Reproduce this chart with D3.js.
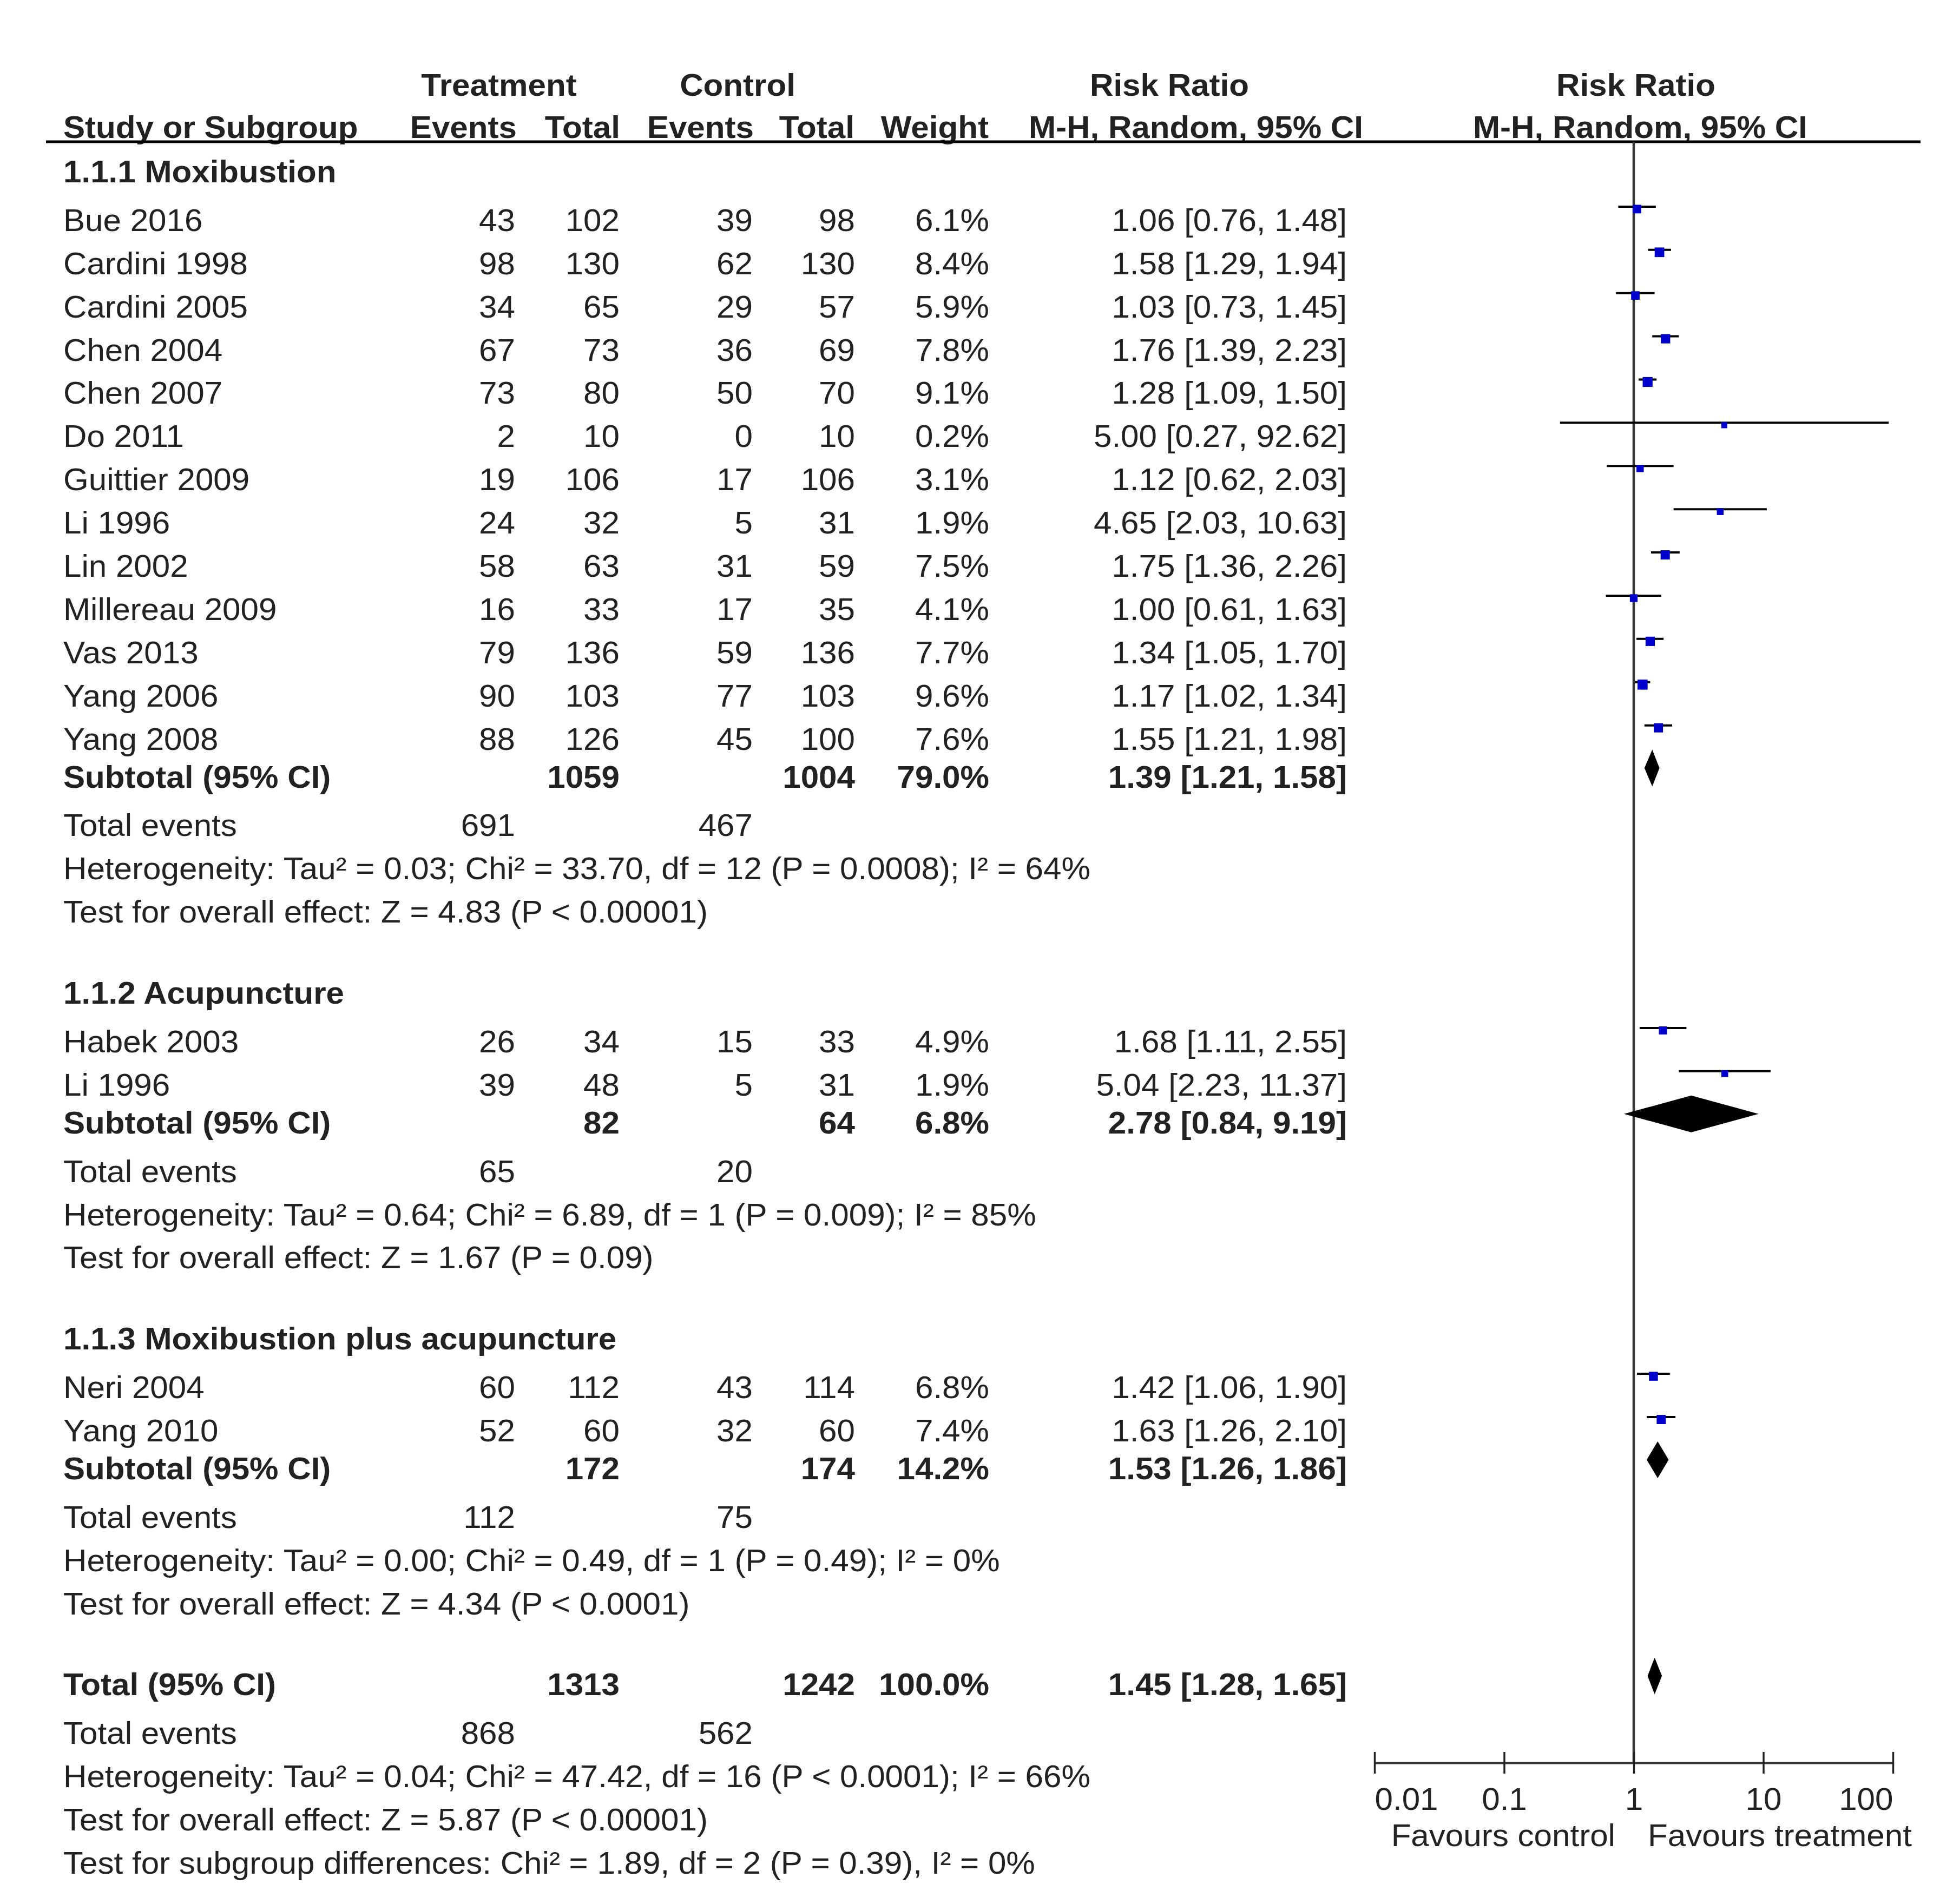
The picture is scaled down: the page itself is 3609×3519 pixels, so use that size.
<!DOCTYPE html>
<html><head><meta charset="utf-8">
<script src="https://cdn.jsdelivr.net/npm/d3@7"></script>
<style>
body{margin:0;background:#fff;}
svg{display:block;}
text{font-family:"Liberation Sans",Arial,sans-serif;fill:#222;}
</style>
</head><body>
<svg id="chart" width="3609" height="3519"></svg>
<script>
// ---------------- DATA ----------------
const groupTitles = ["1.1.1 Moxibustion", "1.1.2 Acupuncture", "1.1.3 Moxibustion plus acupuncture"];
const studyGroup = [0,0,0,0,0,0,0,0,0,0,0,0,0, 1,1, 2,2];
const studyNames = ["Bue 2016","Cardini 1998","Cardini 2005","Chen 2004","Chen 2007","Do 2011","Guittier 2009","Li 1996","Lin 2002","Millereau 2009","Vas 2013","Yang 2006","Yang 2008",
                    "Habek 2003","Li 1996",
                    "Neri 2004","Yang 2010"];
const treatEvents = [43,98,34,67,73,2,19,24,58,16,79,90,88, 26,39, 60,52];
const treatTotal  = [102,130,65,73,80,10,106,32,63,33,136,103,126, 34,48, 112,60];
const ctrlEvents  = [39,62,29,36,50,0,17,5,31,17,59,77,45, 15,5, 43,32];
const ctrlTotal   = [98,130,57,69,70,10,106,31,59,35,136,103,100, 33,31, 114,60];
const weights     = [6.1,8.4,5.9,7.8,9.1,0.2,3.1,1.9,7.5,4.1,7.7,9.6,7.6, 4.9,1.9, 6.8,7.4];
const rrEst  = [1.06,1.58,1.03,1.76,1.28,5.00,1.12,4.65,1.75,1.00,1.34,1.17,1.55, 1.68,5.04, 1.42,1.63];
const rrLow  = [0.76,1.29,0.73,1.39,1.09,0.27,0.62,2.03,1.36,0.61,1.05,1.02,1.21, 1.11,2.23, 1.06,1.26];
const rrHigh = [1.48,1.94,1.45,2.23,1.50,92.62,2.03,10.63,2.26,1.63,1.70,1.34,1.98, 2.55,11.37, 1.90,2.10];

const subTreatTotal  = [1059, 82, 172];
const subCtrlTotal   = [1004, 64, 174];
const subWeight      = [79.0, 6.8, 14.2];
const subRR          = [1.39, 2.78, 1.53];
const subLow         = [1.21, 0.84, 1.26];
const subHigh        = [1.58, 9.19, 1.86];
const subTreatEvents = [691, 65, 112];
const subCtrlEvents  = [467, 20, 75];
const subHet = ["Heterogeneity: Tau² = 0.03; Chi² = 33.70, df = 12 (P = 0.0008); I² = 64%",
                "Heterogeneity: Tau² = 0.64; Chi² = 6.89, df = 1 (P = 0.009); I² = 85%",
                "Heterogeneity: Tau² = 0.00; Chi² = 0.49, df = 1 (P = 0.49); I² = 0%"];
const subTest = ["Test for overall effect: Z = 4.83 (P < 0.00001)",
                 "Test for overall effect: Z = 1.67 (P = 0.09)",
                 "Test for overall effect: Z = 4.34 (P < 0.0001)"];

const totTreatTotal = 1313, totCtrlTotal = 1242, totWeight = 100.0;
const totRR = [1.45, 1.28, 1.65];
const totTreatEvents = 868, totCtrlEvents = 562;
const totHet = "Heterogeneity: Tau² = 0.04; Chi² = 47.42, df = 16 (P < 0.0001); I² = 66%";
const totTest = "Test for overall effect: Z = 5.87 (P < 0.00001)";
const subgroupTest = "Test for subgroup differences: Chi² = 1.89, df = 2 (P = 0.39), I² = 0%";

const tickValues = [0.01, 0.1, 1, 10, 100];
const tickLabels = ["0.01", "0.1", "1", "10", "100"];
const favourLeft = "Favours control", favourRight = "Favours treatment";

// ---------------- LAYOUT ----------------
const FS = 57;
const SX = 1.055; // horizontal glyph stretch to match the reference's wider type
const svg = d3.select("#chart");
const col = {name:117, tEv:952, tTot:1145, cEv:1391, cTot:1580, wt:1828, ci:2489};

const rows = [];
let u = 0;
groupTitles.forEach((g, gi) => {
  if (gi > 0) u += 15;
  rows.push({type:"heading", u, gi});
  const idx = studyGroup.map((s,i)=>s===gi?i:-1).filter(i=>i>=0);
  idx.forEach((si, k) => { u += (k===0?9:8); rows.push({type:"study", u, si}); });
  u += 7; rows.push({type:"subtotal", u, gi});
  u += 9; rows.push({type:"events", u, gi});
  u += 8; rows.push({type:"het", u, gi});
  u += 8; rows.push({type:"test", u, gi});
});
u += 15; rows.push({type:"total", u});
u += 9;  rows.push({type:"totEvents", u});
u += 8;  rows.push({type:"totHet", u});
u += 8;  rows.push({type:"totTest", u});
u += 8;  rows.push({type:"subgroup", u});

const y = d3.scaleLinear().domain([0, u]).range([337, 3463]);
const x = d3.scaleLog().domain([0.01, 100]).range([2540, 3498]);
const sq = d3.scaleLinear().domain([0, 10]).range([11, 19]);

const f2 = v => v.toFixed(2);
const ciStr = (e,l,h) => `${f2(e)} [${f2(l)}, ${f2(h)}]`;

function txt(xp, yp, s, anchor="start", bold=false) {
  return svg.append("text").attr("x", xp / SX).attr("y", yp)
    .attr("transform", `scale(${SX},1)`).attr("text-anchor", anchor)
    .attr("font-size", FS).attr("font-weight", bold ? "bold" : "normal").text(s);
}

// ---------------- HEADER ----------------
txt(922, 177, "Treatment", "middle", true);
txt(1363, 177, "Control", "middle", true);
txt(2161, 177, "Risk Ratio", "middle", true);
txt(3023, 177, "Risk Ratio", "middle", true);
txt(col.name, 255, "Study or Subgroup", "start", true);
txt(955, 255, "Events", "end", true);
txt(1146, 255, "Total", "end", true);
txt(1393, 255, "Events", "end", true);
txt(1579, 255, "Total", "end", true);
txt(1827, 255, "Weight", "end", true);
txt(2210, 255, "M-H, Random, 95% CI", "middle", true);
txt(3031, 255, "M-H, Random, 95% CI", "middle", true);
svg.append("line").attr("x1", 85).attr("x2", 3549).attr("y1", 262).attr("y2", 262)
  .attr("stroke", "#000").attr("stroke-width", 5);

// ---------------- AXIS + NULL LINE ----------------
const axisY = 3258;
svg.append("line").attr("x1", x(1)).attr("x2", x(1)).attr("y1", 262).attr("y2", axisY)
  .attr("stroke", "#333").attr("stroke-width", 4.5);

const axis = d3.axisBottom(x).tickValues(tickValues).tickFormat((d,i)=>tickLabels[i])
  .tickSizeOuter(0).tickSizeInner(20).tickPadding(0);
const ag = svg.append("g").attr("transform", `translate(0,${axisY})`).call(axis);
ag.select(".domain").attr("stroke", "#333").attr("stroke-width", 4);
ag.selectAll(".tick line").attr("y1", -20).attr("y2", 20).attr("stroke", "#222").attr("stroke-width", 3.5);
ag.selectAll(".tick text").attr("font-size", FS).attr("fill", "#222")
  .attr("font-family", '"Liberation Sans",Arial,sans-serif')
  .attr("dy", null).attr("y", 3345 - axisY).attr("transform", `scale(${SX},1)`)
  .attr("text-anchor", (d,i) => i===0 ? "start" : (i===tickValues.length-1 ? "end" : "middle"));
txt(x(1) - 34, 3412, favourLeft, "end");
txt(x(1) + 26, 3412, favourRight, "start");

// ---------------- ROWS ----------------
const plot = svg.append("g");
function diamond(yc, e, l, h) {
  const hh = 34;
  plot.append("path")
    .attr("d", `M${x(l)},${yc} L${x(e)},${yc-hh} L${x(h)},${yc} L${x(e)},${yc+hh} Z`)
    .attr("fill", "#000");
}

rows.forEach(r => {
  const yb = y(r.u);
  switch (r.type) {
    case "heading":
      txt(col.name, yb, groupTitles[r.gi], "start", true); break;
    case "study": {
      const i = r.si;
      txt(col.name, yb, studyNames[i]);
      txt(col.tEv, yb, treatEvents[i], "end");
      txt(col.tTot, yb, treatTotal[i], "end");
      txt(col.cEv, yb, ctrlEvents[i], "end");
      txt(col.cTot, yb, ctrlTotal[i], "end");
      txt(col.wt, yb, weights[i].toFixed(1) + "%", "end");
      txt(col.ci, yb, ciStr(rrEst[i], rrLow[i], rrHigh[i]), "end");
      const ly = yb - 45;
      plot.append("line").attr("x1", x(rrLow[i])).attr("x2", x(rrHigh[i]))
        .attr("y1", ly).attr("y2", ly).attr("stroke", "#000").attr("stroke-width", 4);
      const s = sq(weights[i]);
      plot.append("rect").attr("x", x(rrEst[i]) - s/2).attr("y", ly + 4.5 - s/2)
        .attr("width", s).attr("height", s).attr("fill", "#0000cc");
      break; }
    case "subtotal": {
      const g = r.gi;
      txt(col.name, yb, "Subtotal (95% CI)", "start", true);
      txt(col.tTot, yb, subTreatTotal[g], "end", true);
      txt(col.cTot, yb, subCtrlTotal[g], "end", true);
      txt(col.wt, yb, subWeight[g].toFixed(1) + "%", "end", true);
      txt(col.ci, yb, ciStr(subRR[g], subLow[g], subHigh[g]), "end", true);
      diamond(yb - 36, subRR[g], subLow[g], subHigh[g]);
      break; }
    case "events":
      txt(col.name, yb, "Total events");
      txt(col.tEv, yb, subTreatEvents[r.gi], "end");
      txt(col.cEv, yb, subCtrlEvents[r.gi], "end");
      break;
    case "het": txt(col.name, yb, subHet[r.gi]); break;
    case "test": txt(col.name, yb, subTest[r.gi]); break;
    case "total":
      txt(col.name, yb, "Total (95% CI)", "start", true);
      txt(col.tTot, yb, totTreatTotal, "end", true);
      txt(col.cTot, yb, totCtrlTotal, "end", true);
      txt(col.wt, yb, totWeight.toFixed(1) + "%", "end", true);
      txt(col.ci, yb, ciStr(totRR[0], totRR[1], totRR[2]), "end", true);
      diamond(yb - 36, totRR[0], totRR[1], totRR[2]);
      break;
    case "totEvents":
      txt(col.name, yb, "Total events");
      txt(col.tEv, yb, totTreatEvents, "end");
      txt(col.cEv, yb, totCtrlEvents, "end");
      break;
    case "totHet": txt(col.name, yb, totHet); break;
    case "totTest": txt(col.name, yb, totTest); break;
    case "subgroup": txt(col.name, yb, subgroupTest); break;
  }
});
</script>
</body></html>
